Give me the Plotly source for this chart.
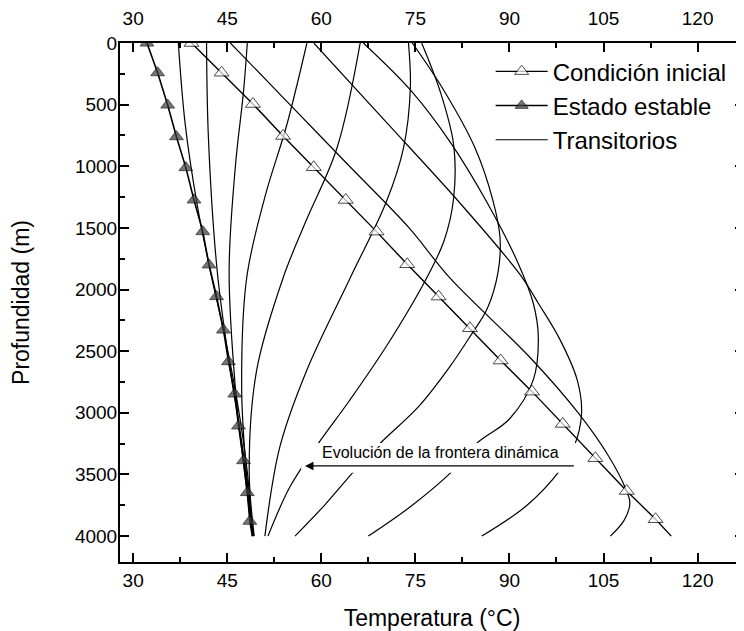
import plotly.graph_objects as go

# temperatura (°C) vs profundidad (m)
steady_depth = [0, 241, 503, 760, 1011, 1273, 1530, 1800, 2057, 2328, 2585, 2847, 3106, 3388, 3647, 3879, 4000]
steady_temp = [32.2, 33.9, 35.5, 36.9, 38.4, 39.7, 41.1, 42.1, 43.3, 44.4, 45.2, 46.2, 46.8, 47.6, 48.2, 48.6, 49.0]

init_depth = [0, 241, 495, 754, 1008, 1273, 1530, 1795, 2057, 2314, 2576, 2828, 3090, 3368, 3634, 3863, 4000]
init_temp = [39.3, 44.1, 49.1, 53.9, 58.8, 63.9, 68.8, 73.7, 78.7, 83.7, 88.6, 93.6, 98.5, 103.7, 108.7, 113.3, 115.8]

# transitorios
tr1_depth = [0, 500, 1000, 1500, 1906, 2557, 3003, 3350, 3612, 3733, 3870, 4000]
tr1_temp = [45.5, 55.0, 64.5, 74.0, 80.5, 93.4, 101.0, 105.8, 108.5, 109.2, 108.3, 106.1]

tr2_depth = [0, 650, 1298, 1879, 2111, 2400, 2733, 3003, 3274, 3463, 3750, 4000]
tr2_temp = [58.8, 70.5, 82.1, 91.7, 94.6, 98.0, 100.8, 101.5, 100.3, 98.1, 92.8, 85.6]

tr3_depth = [0, 381, 800, 1300, 1800, 2111, 2382, 2733, 3050, 3247, 3463, 3750, 4000]
tr3_temp = [66.7, 74.2, 80.5, 86.5, 91.5, 93.8, 94.6, 93.8, 90.0, 84.8, 81.1, 74.5, 67.5]

tr4_depth = [0, 381, 850, 1284, 1582, 1852, 2150, 2382, 2625, 2950, 3247, 3463, 3750, 4000]
tr4_temp = [74.5, 79.5, 84.5, 87.4, 88.5, 88.2, 86.5, 83.7, 80.5, 75.5, 69.4, 65.4, 60.5, 55.8]

tr5_depth = [0, 400, 825, 1257, 1600, 1906, 2450, 2900, 3250, 3600, 4000]
tr5_temp = [76.0, 79.0, 81.1, 81.1, 79.6, 76.8, 70.5, 64.5, 59.5, 55.0, 51.5]

tr6_depth = [0, 365, 852, 1284, 1906, 2652, 3274, 4000]
tr6_temp = [73.9, 74.2, 73.1, 70.4, 64.6, 57.7, 53.4, 51.0]

tr7_depth = [0, 852, 1450, 1906, 2652, 3463, 4000]
tr7_temp = [66.2, 62.5, 57.5, 53.9, 49.7, 48.5, 49.3]

tr8_depth = [0, 663, 1250, 1906, 2788, 3450, 4000]
tr8_temp = [57.7, 54.5, 51.0, 48.1, 47.3, 48.0, 49.2]

tr9_depth = [0, 390, 1000, 1850, 2800, 3500, 4000]
tr9_temp = [48.2, 47.6, 46.3, 45.3, 46.3, 47.8, 49.1]

tr10_depth = [0, 770, 1850, 2660, 3340, 4000]
tr10_temp = [41.7, 42.0, 43.4, 45.5, 47.6, 49.1]

tr11_depth = [0, 660, 1310, 1850, 2330, 2880, 3480, 4000]
tr11_temp = [37.2, 38.3, 40.2, 42.3, 44.4, 46.5, 48.2, 49.0]

transients = [(tr1_temp, tr1_depth), (tr2_temp, tr2_depth), (tr3_temp, tr3_depth),
              (tr4_temp, tr4_depth), (tr5_temp, tr5_depth), (tr6_temp, tr6_depth),
              (tr7_temp, tr7_depth), (tr8_temp, tr8_depth), (tr9_temp, tr9_depth),
              (tr10_temp, tr10_depth), (tr11_temp, tr11_depth)]

xticks = [30, 45, 60, 75, 90, 105, 120]
yticks = [0, 500, 1000, 1500, 2000, 2500, 3000, 3500, 4000]

FONT = "Liberation Sans, Arial, sans-serif"
xr = [27.9, 127.4]
yr = [4210, 0]

fig = go.Figure()

for i, (t, d) in enumerate(transients):
    fig.add_trace(go.Scatter(x=t, y=d, mode='lines', line=dict(color='black', width=1.2, shape='spline'),
                             name='Transitorios', legendgroup='tr', showlegend=(i == 0),
                             legendrank=3))

# markers only on the read points, not on the line end at 4000 m
sizes_s = [12] * (len(steady_depth) - 1) + [0]
sizes_i = [13] * (len(init_depth) - 1) + [0]

fig.add_trace(go.Scatter(x=steady_temp, y=steady_depth, mode='lines+markers', name='Estado estable',
                         line=dict(color='black', width=1.6),
                         marker=dict(symbol='triangle-up', size=sizes_s, color='#3c3c3c',
                                     line=dict(color='black', width=1)),
                         legendrank=2))
fig.add_trace(go.Scatter(x=init_temp, y=init_depth, mode='lines+markers', name='Condición inicial',
                         line=dict(color='black', width=1.4),
                         marker=dict(symbol='triangle-up', size=sizes_i, color='white',
                                     line=dict(color='black', width=1)),
                         legendrank=1))

# empty trace so the top / right axes get drawn
fig.add_trace(go.Scatter(x=[], y=[], xaxis='x2', yaxis='y2', showlegend=False, hoverinfo='skip'))

# white box behind the label, hides curves like in the original
fig.add_shape(type='rect', x0=56.8, x1=100.9, y0=3244, y1=3487, xref='x', yref='y',
              fillcolor='white', line=dict(width=0), layer='above')
fig.add_annotation(x=79.0, y=3325, text='Evolución de la frontera dinámica', showarrow=False,
                   font=dict(family=FONT, size=16, color='black'))
fig.add_annotation(x=57.4, y=3431, ax=100.5, ay=3431, axref='x', ayref='y', xref='x', yref='y',
                   text='', showarrow=True, arrowhead=2, arrowsize=1.3, arrowwidth=1.3, arrowcolor='black')

# page body has an 8px margin, so the figure is 8px smaller and margins shifted
axis_common = dict(showgrid=False, zeroline=False, color='black', automargin=False)
fig.update_layout(
    width=736, height=623,
    margin=dict(l=112, r=0, t=35, b=69, autoexpand=False),
    paper_bgcolor='white', plot_bgcolor='white',
    font=dict(family=FONT, color='black'),
    showlegend=True,
    legend=dict(x=0.594, y=0.988, xanchor='left', yanchor='top', bgcolor='rgba(0,0,0,0)',
                font=dict(size=24, family=FONT), tracegroupgap=0, itemwidth=52),
    xaxis=dict(range=xr, tickvals=xticks, ticks='inside', ticklen=9, tickwidth=1.5,
               minor=dict(dtick=7.5, tick0=30, ticks='inside', ticklen=5, tickwidth=1.5),
               showline=True, linewidth=2, linecolor='black', tickfont=dict(size=19),
               title=dict(text='Temperatura (°C)', font=dict(size=23), standoff=23), **axis_common),
    xaxis2=dict(range=xr, tickvals=xticks, ticks='inside', ticklen=9, tickwidth=1.5,
                minor=dict(dtick=7.5, tick0=30, ticks='inside', ticklen=5, tickwidth=1.5),
                overlaying='x', side='top', anchor='y2', showline=True, linewidth=2, linecolor='black',
                tickfont=dict(size=19), ticklabelstandoff=8, **axis_common),
    yaxis=dict(range=yr, tickvals=yticks, ticks='inside', ticklen=9, tickwidth=1.5,
               minor=dict(dtick=250, tick0=0, ticks='inside', ticklen=5, tickwidth=1.5),
               showline=True, linewidth=2, linecolor='black', tickfont=dict(size=19),
               ticklabelstandoff=-3,
               title=dict(text='Profundidad (m)', font=dict(size=23), standoff=41), **axis_common),
    yaxis2=dict(range=yr, tickvals=yticks, ticks='inside', ticklen=9, tickwidth=1.5,
                minor=dict(dtick=250, tick0=0, ticks='inside', ticklen=5, tickwidth=1.5),
                overlaying='y', side='right', anchor='x2', showline=False, showticklabels=False,
                **axis_common),
)

fig.write_html("out.html")
